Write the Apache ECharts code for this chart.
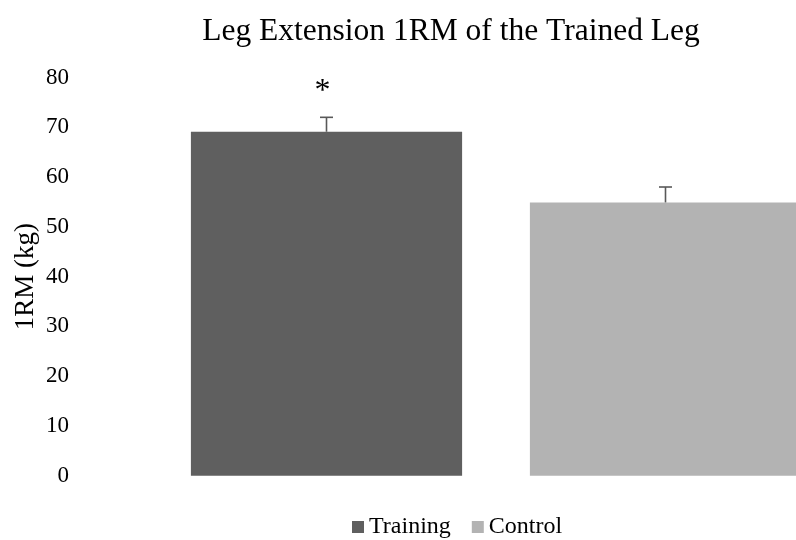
<!DOCTYPE html>
<html>
<head>
<meta charset="utf-8">
<script src="https://cdn.jsdelivr.net/npm/echarts@6/dist/echarts.min.js"></script>
<style>html,body{margin:0;padding:0;background:#fff}#c{width:796px;height:540px}</style>
</head>
<body>
<div id="c"></div>
<script>
var categories = ['Training', 'Control'];
var means = [69.1, 54.9];
var errors = [2.9, 3.1];
var significance = ['*', ''];
var colors = ['#5f5f5f', '#b3b3b3'];
var yTicks = [0, 10, 20, 30, 40, 50, 60, 70, 80];

var FONT = '"Liberation Serif", "Times New Roman", serif';
var chart = echarts.init(document.getElementById('c'), null, {renderer: 'canvas'});

var barData = categories.map(function (c, i) {
  return {value: means[i], itemStyle: {color: colors[i]}};
});
var errData = categories.map(function (c, i) {
  return [i, means[i], means[i] + errors[i], significance[i]];
});

chart.setOption({
  animation: false,
  backgroundColor: '#fff',
  title: {
    text: 'Leg Extension 1RM of the Trained Leg',
    left: 446, textAlign: 'center', top: 11,
    textStyle: {fontFamily: FONT, fontSize: 31.5, fontWeight: 'normal', color: '#000'}
  },
  legend: {
    top: 510, left: 347,
    itemWidth: 12, itemHeight: 12, itemGap: 21,
    icon: 'rect',
    textStyle: {fontFamily: FONT, fontSize: 24, color: '#000'},
    data: [
      {name: 'Training', itemStyle: {color: colors[0]}},
      {name: 'Control', itemStyle: {color: colors[1]}}
    ]
  },
  grid: {left: 157, right: -39, top: 77.5, bottom: 64.3, containLabel: false, outerBoundsMode: 'none'},
  xAxis: {
    type: 'category', data: categories,
    axisLine: {show: false}, axisTick: {show: false}, axisLabel: {show: false}
  },
  yAxis: {
    type: 'value', min: yTicks[0], max: yTicks[yTicks.length - 1], interval: 10,
    axisLine: {show: false}, axisTick: {show: false}, splitLine: {show: false},
    axisLabel: {fontFamily: FONT, fontSize: 23, color: '#000', margin: 88},
    name: '1RM (kg)', nameLocation: 'middle', nameRotate: 90, nameGap: 131,
    nameMoveOverlap: false,
    nameTextStyle: {fontFamily: FONT, fontSize: 27, color: '#000', verticalAlign: 'middle'}
  },
  series: [
    {
      type: 'bar', name: 'Training', stack: 'a', barCategoryGap: '20%',
      data: [barData[0], '-']
    },
    {
      type: 'bar', name: 'Control', stack: 'a',
      data: ['-', barData[1]]
    },
    {
      type: 'custom', name: 'err', silent: true, z: 5,
      data: errData,
      renderItem: function (params, api) {
        var x = api.value(0);
        var lo = api.coord([x, api.value(1)]);
        var hi = api.coord([x, api.value(2)]);
        var hw = 6.5;
        var style = {stroke: '#595959', lineWidth: 1.6};
        var children = [
          {type: 'line', shape: {x1: lo[0], y1: lo[1], x2: hi[0], y2: hi[1]}, style: style},
          {type: 'line', shape: {x1: hi[0] - hw, y1: hi[1], x2: hi[0] + hw, y2: hi[1]}, style: style}
        ];
        var sig = errData[params.dataIndex][3];
        if (sig) {
          children.push({
            type: 'text',
            style: {text: sig, x: hi[0] - 4, y: hi[1] - 26, align: 'center', verticalAlign: 'middle',
              font: '32px ' + FONT, fill: '#000'}
          });
        }
        return {type: 'group', children: children};
      }
    }
  ]
});
</script>
</body>
</html>
